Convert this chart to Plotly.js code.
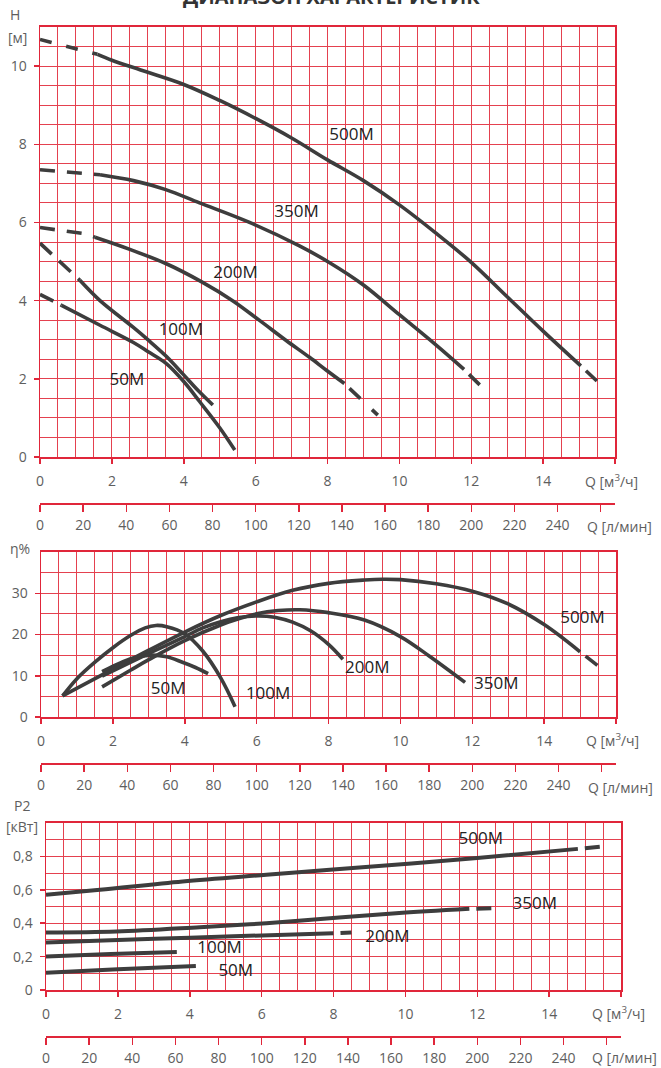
<!DOCTYPE html>
<html><head><meta charset="utf-8">
<script src="https://cdn.plot.ly/plotly-3.0.1.min.js"></script>
<style>html,body{margin:0;padding:0;background:#fff;}#chart{width:661px;height:1068px;}</style>
</head><body><div id="chart"></div>
<script>
// ================= DATA =================
const models = ['50M', '100M', '200M', '350M', '500M'];

// Head H [м] vs Q [м3/ч]
const h50Q  = [0, 0.42, 0.6, 1.67, 2.6, 3.0, 3.5, 4.0, 4.44, 5.0, 5.42];
const h50H  = [4.16, 3.95, 3.88, 3.37, 2.93, 2.7, 2.4, 1.93, 1.42, 0.75, 0.18];
const h100Q = [0, 1.11, 1.67, 2.59, 3.0, 3.52, 3.98, 4.4, 4.81];
const h100H = [5.47, 4.52, 4.0, 3.32, 3.0, 2.57, 2.12, 1.7, 1.33];
const h200Q = [0, 1.25, 1.53, 2.5, 3.5, 4.5, 5.36, 6.1, 6.85, 7.5, 7.97, 8.47, 9.4];
const h200H = [5.87, 5.71, 5.62, 5.31, 4.95, 4.48, 4.0, 3.5, 2.98, 2.55, 2.22, 1.88, 1.07];
const h350Q = [0, 1.25, 1.67, 2.6, 3.5, 4.44, 5.83, 7.22, 8.06, 9.0, 10.0, 11.0, 11.8, 12.24];
const h350H = [7.35, 7.27, 7.22, 7.07, 6.84, 6.5, 6.0, 5.4, 4.97, 4.4, 3.64, 2.88, 2.24, 1.84];
const h500Q = [0, 1.6, 2.0, 2.8, 4.0, 5.0, 6.0, 7.0, 8.0, 9.0, 10.0, 11.0, 12.0, 13.0, 14.0, 15.05, 15.5];
const h500H = [10.68, 10.3, 10.15, 9.9, 9.53, 9.12, 8.66, 8.16, 7.6, 7.07, 6.45, 5.74, 4.98, 4.1, 3.22, 2.33, 1.94];

// Efficiency η [%] vs Q
const e50Q  = [1.7, 2.3, 2.7, 3.1, 3.5, 3.9, 4.3, 4.65];
const e50E  = [11.0, 13.5, 14.6, 15.0, 14.6, 13.4, 12.0, 10.5];
const e100Q = [0.6, 1.0, 1.5, 2.0, 2.5, 2.9, 3.2, 3.5, 4.0, 4.5, 5.0, 5.4];
const e100E = [5.1, 9.3, 13.3, 16.8, 19.8, 21.6, 22.2, 21.9, 20.2, 16.0, 9.5, 2.5];
const e200Q = [1.7, 2.5, 3, 4, 4.5, 5, 5.5, 6, 6.5, 7, 7.5, 8, 8.4];
const e200E = [9.9, 13.3, 15.4, 19.5, 21.6, 23.1, 24.1, 24.5, 24.2, 23.0, 20.9, 17.6, 14.0];
const e350Q = [1.7, 2.5, 3, 4, 5, 5.5, 6, 6.6, 7.2, 8, 9, 10, 10.8, 11.8];
const e350E = [7.3, 11.4, 13.9, 18.5, 22.3, 23.8, 25.0, 25.8, 26.0, 25.3, 23.5, 19.5, 14.8, 8.4];
const e500Q = [0.6, 2, 3, 4, 5, 6, 7, 8, 9, 9.5, 10, 11, 12, 13, 14, 15, 15.5];
const e500E = [5.1, 11.6, 16.2, 20.6, 24.6, 27.9, 30.7, 32.4, 33.2, 33.4, 33.3, 32.3, 30.5, 27.4, 22.4, 15.8, 12.4];

// Power P2 [кВт] vs Q
const p50Q  = [0, 2, 4.17];
const p50P  = [0.104, 0.125, 0.144];
const p100Q = [0, 1.8, 3.64];
const p100P = [0.20, 0.215, 0.228];
const p200Q = [0, 2, 4, 6, 8, 8.5];
const p200P = [0.285, 0.30, 0.313, 0.327, 0.34, 0.345];
const p350Q = [0, 1.96, 4.28, 6.13, 7.9, 9.74, 11.78, 12.5];
const p350P = [0.344, 0.35, 0.376, 0.40, 0.43, 0.46, 0.486, 0.49];
const p500Q = [0, 1.5, 3.8, 6.13, 7.9, 12.0, 14.8, 15.5];
const p500P = [0.57, 0.60, 0.65, 0.69, 0.72, 0.79, 0.845, 0.86];

// Label anchor positions (data coords), order = models
const hLabQ = [2.42, 3.92, 5.44, 7.14, 8.67];
const hLabV = [1.96, 3.24, 4.69, 6.25, 8.21];
const eLabQ = [3.54, 6.32, 9.08, 12.67, 15.07];
const eLabV = [6.5, 5.3, 11.6, 7.7, 23.7];
const pLabQ = [5.28, 4.83, 9.5, 13.6, 12.1];
const pLabV = [0.108, 0.246, 0.31, 0.51, 0.90];

// Ticks
const qTicks = [0, 2, 4, 6, 8, 10, 12, 14, 16];
const qTickText = ['0', '2', '4', '6', '8', '10', '12', '14', ' '];
const lTicks = [0, 20, 40, 60, 80, 100, 120, 140, 160, 180, 200, 220, 240, 260];
const lTickText = ['0', '20', '40', '60', '80', '100', '120', '140', '160', '180', '200', '220', '240', ' '];
const hTicks = [0, 2, 4, 6, 8, 10];
const eTicks = [0, 10, 20, 30];
const pTicks = [0, 0.2, 0.4, 0.6, 0.8];
const pTickText = ['0', '0,2', '0,4', '0,6', '0,8'];

// ================= STYLE / LAYOUT =================
const W = 661, H = 1068;
const px = v => v / W, py = v => 1 - v / H;
const RED = '#e0263a', GRID = '#e4414f', LINE = '#3d3d3d', TXT = '#5e5e5e', LAB = '#232323';
const FONT = '"Open Sans", "Noto Sans", sans-serif';

const P = [
  {xl: 40, xr: 615, yt: 27,  yb: 457, sec: 503},
  {xl: 41, xr: 616, yt: 552, yb: 717, sec: 763},
  {xl: 46, xr: 621, yt: 823, yb: 990, sec: 1036}
];

function mainX(p, anchor) {
  return {domain: [px(p.xl), px(p.xr)], range: [0, 16], anchor: anchor, tickmode: 'array',
    tickvals: qTicks, ticktext: qTickText, ticks: 'outside', ticklen: 5, tickwidth: 1.5, tickcolor: RED,
    showline: true, mirror: true, linecolor: RED, linewidth: 2, showgrid: true, gridcolor: GRID, gridwidth: 1,
    zeroline: false, minor: {tickmode: 'linear', tick0: 0, dtick: 0.5, showgrid: true, gridcolor: GRID, gridwidth: 1, ticks: ''},
    tickfont: {family: FONT, size: 14, color: TXT}, ticklabelstandoff: 5, fixedrange: true};
}
function secX(p, over) {
  return {range: [0, 16 * 1000 / 60], overlaying: over, anchor: 'free', position: py(p.sec), side: 'bottom',
    tickmode: 'array', tickvals: lTicks, ticktext: lTickText, ticks: 'outside', ticklen: 7, tickwidth: 1.5, tickcolor: RED,
    showline: true, linecolor: RED, linewidth: 1.5, showgrid: false, zeroline: false,
    tickfont: {family: FONT, size: 14, color: TXT}, ticklabelstandoff: 2, fixedrange: true};
}
function mainY(p, anchor, range, tv, tt, minor) {
  return {domain: [py(p.yb), py(p.yt)], range: range, anchor: anchor, tickmode: 'array', tickvals: tv, ticktext: tt,
    ticks: 'outside', ticklen: 5, tickwidth: 1.5, tickcolor: RED, showline: true, mirror: true, linecolor: RED, linewidth: 1.5,
    showgrid: true, gridcolor: GRID, gridwidth: 1, zeroline: false,
    minor: {tickmode: 'linear', tick0: 0, dtick: minor, showgrid: true, gridcolor: GRID, gridwidth: 1, ticks: ''},
    tickfont: {family: FONT, size: 14, color: TXT}, ticklabelstandoff: 4, fixedrange: true};
}

const traces = [];
function seg(q, v, i0, i1, xa, ya, dash, w) {
  traces.push({x: q.slice(i0, i1 + 1), y: v.slice(i0, i1 + 1), xaxis: xa, yaxis: ya, mode: 'lines',
    line: {color: LINE, width: w, dash: dash, shape: dash === 'solid' ? 'spline' : 'linear', smoothing: 1},
    hoverinfo: 'skip', showlegend: false});
}
// curve = [q, v, solidStart, solidEnd, startDash, endDash]
const DS = '15px,12px', DE = '0px,7px,15px,9px';
const hCurves = [[h50Q, h50H, 2, h50Q.length - 1, '15px,8px'], [h100Q, h100H, 1, h100Q.length - 1, '16px,10px'],
  [h200Q, h200H, 2, 11, DS], [h350Q, h350H, 2, 12, DS], [h500Q, h500H, 1, 15, '12px,15px']];
const eCurves = [[e50Q, e50E, 0, e50Q.length - 1], [e100Q, e100E, 0, e100Q.length - 1], [e200Q, e200E, 0, e200Q.length - 1],
  [e350Q, e350E, 0, e350Q.length - 1], [e500Q, e500E, 0, 15]];
const pCurves = [[p50Q, p50P, 0, 2], [p100Q, p100P, 0, 2], [p200Q, p200P, 0, 4], [p350Q, p350P, 0, 6], [p500Q, p500P, 0, 6]];

function addCurves(list, xa, ya, w) {
  list.forEach(c => {
    const [q, v, s0, s1, ds] = c;
    if (s0 > 0) seg(q, v, 0, s0, xa, ya, ds || DS, w);
    seg(q, v, s0, s1, xa, ya, 'solid', w);
    if (s1 < q.length - 1) seg(q, v, s1, q.length - 1, xa, ya, DE, w);
  });
}
addCurves(hCurves, 'x', 'y', 3.6);
addCurves(eCurves, 'x2', 'y2', 3.6);
addCurves(pCurves, 'x3', 'y3', 4);

function addLabels(q, v, xa, ya) {
  traces.push({x: q, y: v, text: models, mode: 'text', xaxis: xa, yaxis: ya, textposition: 'middle center',
    textfont: {family: FONT, size: 17, color: LAB}, hoverinfo: 'skip', showlegend: false, cliponaxis: false});
}
addLabels(hLabQ, hLabV, 'x', 'y');
addLabels(eLabQ, eLabV, 'x2', 'y2');
addLabels(pLabQ, pLabV, 'x3', 'y3');

// secondary l/min axes
[['x4', 'y'], ['x5', 'y2'], ['x6', 'y3']].forEach(a =>
  traces.push({x: [], y: [], xaxis: a[0], yaxis: a[1], mode: 'lines', hoverinfo: 'skip', showlegend: false}));

function ann(text, x, y, size, color, extra) {
  return Object.assign({text: text, x: px(x), y: py(y), xref: 'paper', yref: 'paper', showarrow: false,
    xanchor: 'center', yanchor: 'middle', font: {family: FONT, size: size, color: color}}, extra || {});
}
const annotations = [
  ann('<b>ДИАПАЗОН ХАРАКТЕРИСТИК</b>', 331, -3, 20, '#333'),
  ann('H', 15, 15, 14, TXT), ann('[м]', 17, 38, 14, TXT),
  ann('η%', 20, 548, 14, TXT),
  ann('P2', 22, 805, 14, TXT), ann('[кВт]', 22, 826, 14, TXT),
  ann('Q [м<sup>3</sup>/ч]', 611, 481, 14, TXT), ann('Q [л/мин]', 619, 527, 14, TXT),
  ann('Q [м<sup>3</sup>/ч]', 612, 740, 14, TXT), ann('Q [л/мин]', 620, 787, 14, TXT),
  ann('Q [м<sup>3</sup>/ч]', 618, 1013, 14, TXT), ann('Q [л/мин]', 624, 1057, 14, TXT)
];

const layout = {
  width: W, height: H, margin: {l: 0, r: 0, t: 0, b: 0}, paper_bgcolor: '#fff', plot_bgcolor: '#fff',
  showlegend: false, font: {family: FONT},
  xaxis: mainX(P[0], 'y'), yaxis: mainY(P[0], 'x', [0, 11], hTicks, hTicks.map(String), 0.5),
  xaxis2: mainX(P[1], 'y2'), yaxis2: mainY(P[1], 'x2', [0, 40], eTicks, eTicks.map(String), 5),
  xaxis3: mainX(P[2], 'y3'), yaxis3: mainY(P[2], 'x3', [0, 1], pTicks, pTickText, 0.1),
  xaxis4: secX(P[0], 'x'), xaxis5: secX(P[1], 'x2'), xaxis6: secX(P[2], 'x3'),
  annotations: annotations
};
Plotly.newPlot('chart', traces, layout, {staticPlot: true, displayModeBar: false});
</script></body></html>
